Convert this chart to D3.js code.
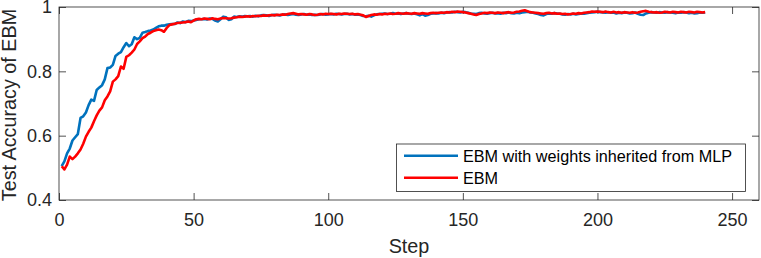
<!DOCTYPE html>
<html>
<head>
<meta charset="utf-8">
<script src="https://cdn.jsdelivr.net/npm/d3@7"></script>
<style>
  html, body { margin: 0; padding: 0; background: #fff; }
  svg { display: block; font-family: "Liberation Sans", Arial, Helvetica, sans-serif; }
</style>
</head>
<body>
<svg id="chart" width="761" height="258"></svg>
<script>
// ---- data ----
const seriesNames = ["EBM with weights inherited from MLP", "EBM"];
const xTicks = [0, 50, 100, 150, 200, 250];
const yTicks = [0.4, 0.6, 0.8, 1];
const yTickLabels = ["0.4", "0.6", "0.8", "1"];

const blueValues = [
  0.505, 0.52, 0.545, 0.56, 0.585, 0.595, 0.605, 0.655, 0.66, 0.672,
  0.695, 0.712, 0.708, 0.742, 0.75, 0.757, 0.775, 0.81, 0.812, 0.82,
  0.848, 0.855, 0.86, 0.875, 0.888, 0.878, 0.884, 0.906, 0.9, 0.904,
  0.92, 0.922, 0.925, 0.927, 0.93, 0.935, 0.94, 0.942, 0.942, 0.945,
  0.946, 0.947, 0.947, 0.952, 0.95, 0.955, 0.953, 0.957, 0.956, 0.958,
  0.96, 0.962,
  0.962, 0.963, 0.961, 0.964, 0.963, 0.958, 0.955, 0.962,
  0.97, 0.968, 0.96, 0.962, 0.97, 0.969, 0.971, 0.97, 0.972, 0.971,
  0.972, 0.97, 0.973, 0.971, 0.974, 0.975, 0.974, 0.972, 0.975, 0.976,
  0.975, 0.974, 0.976, 0.977, 0.975, 0.977, 0.978, 0.976, 0.975, 0.977,
  0.978, 0.976, 0.977, 0.975, 0.976, 0.975, 0.977, 0.978, 0.976, 0.977,
  0.978, 0.977, 0.979, 0.978, 0.977, 0.978, 0.979, 0.977, 0.978, 0.976,
  0.977, 0.975, 0.972, 0.971, 0.973, 0.97, 0.974, 0.977, 0.978, 0.979,
  0.98, 0.978, 0.979, 0.981, 0.979, 0.98, 0.978, 0.98, 0.981, 0.979,
  0.978, 0.98, 0.977, 0.974, 0.978, 0.973, 0.975, 0.979, 0.98, 0.981,
  0.98, 0.982, 0.981, 0.983, 0.984, 0.983, 0.985, 0.984, 0.983, 0.985,
  0.984, 0.982, 0.98, 0.979, 0.978, 0.981, 0.982, 0.98, 0.979, 0.981,
  0.982, 0.98, 0.981, 0.979, 0.982, 0.981, 0.983, 0.981, 0.98, 0.982,
  0.981, 0.983, 0.984, 0.985, 0.983, 0.982, 0.98, 0.978, 0.975, 0.974,
  0.978, 0.98, 0.979, 0.981, 0.98, 0.979, 0.977, 0.976, 0.978, 0.977,
  0.979, 0.977, 0.978, 0.98, 0.979, 0.981, 0.982, 0.983, 0.984, 0.985,
  0.984, 0.983, 0.982, 0.984, 0.982, 0.983, 0.98, 0.982, 0.981, 0.983,
  0.982, 0.98, 0.981, 0.983, 0.979, 0.976, 0.975, 0.98, 0.982, 0.984,
  0.983, 0.982, 0.984, 0.983, 0.982, 0.984, 0.983, 0.982, 0.981, 0.983,
  0.982, 0.984, 0.983, 0.981, 0.982, 0.98, 0.981, 0.983, 0.982, 0.983
];

const redValues = [
  0.505, 0.495, 0.51, 0.535, 0.527, 0.535, 0.545, 0.557, 0.575, 0.597,
  0.612, 0.625, 0.645, 0.663, 0.678, 0.688, 0.71, 0.722, 0.738, 0.768,
  0.775, 0.785, 0.815, 0.808, 0.845, 0.85, 0.858, 0.868, 0.885, 0.893,
  0.903, 0.908, 0.916, 0.92, 0.925, 0.928, 0.93, 0.928, 0.923, 0.935,
  0.944, 0.946, 0.948, 0.95, 0.951, 0.952, 0.953, 0.955, 0.953, 0.958,
  0.962, 0.963,
  0.962, 0.964, 0.963, 0.962, 0.965, 0.963, 0.962, 0.964,
  0.966, 0.965, 0.964, 0.965, 0.967, 0.968, 0.97, 0.969, 0.97, 0.971,
  0.97, 0.972, 0.971, 0.973, 0.972, 0.974, 0.973, 0.974, 0.975, 0.974,
  0.976, 0.975, 0.977, 0.976, 0.978, 0.98, 0.981, 0.979, 0.977, 0.978,
  0.977, 0.976, 0.978, 0.977, 0.975, 0.976, 0.978, 0.977, 0.979, 0.978,
  0.979, 0.978, 0.977, 0.979, 0.978, 0.98, 0.979, 0.978, 0.979, 0.977,
  0.978, 0.976, 0.974, 0.969, 0.972, 0.975, 0.977, 0.976, 0.978, 0.977,
  0.979, 0.978, 0.98, 0.978, 0.979, 0.981, 0.98, 0.979, 0.981, 0.98,
  0.979, 0.981, 0.98, 0.979, 0.981, 0.98, 0.979, 0.981, 0.982, 0.981,
  0.982, 0.983, 0.982, 0.984, 0.983, 0.985, 0.984, 0.986, 0.985, 0.984,
  0.983, 0.981, 0.979, 0.977, 0.975, 0.978, 0.98, 0.982, 0.981, 0.983,
  0.982, 0.981, 0.983, 0.982, 0.981, 0.983, 0.984, 0.982, 0.983, 0.985,
  0.986, 0.988, 0.99, 0.987, 0.984, 0.983, 0.982, 0.981, 0.98, 0.979,
  0.981, 0.982, 0.98, 0.981, 0.979, 0.98, 0.978, 0.979, 0.977, 0.978,
  0.98, 0.979, 0.981, 0.98, 0.982, 0.983, 0.984, 0.986, 0.985, 0.986,
  0.985, 0.984, 0.986, 0.984, 0.983, 0.985, 0.983, 0.984, 0.982, 0.984,
  0.983, 0.982, 0.984, 0.982, 0.983, 0.985, 0.987, 0.988, 0.985, 0.984,
  0.983, 0.984, 0.982, 0.983, 0.985, 0.984, 0.983, 0.985, 0.984, 0.983,
  0.985, 0.984, 0.983, 0.985, 0.984, 0.983, 0.985, 0.984, 0.983, 0.984
];

// ---- layout ----
const L = 59, R = 759, T = 7, B = 200;
const axisColor = "#262626";
const colors = ["#0072BD", "#FF0000"];

const svg = d3.select("#chart");
const x = d3.scaleLinear().domain([0, 260]).range([L, R]);
const y = d3.scaleLinear().domain([0.4, 1]).range([B, T]);

function styleAxis(g) {
  g.selectAll(".domain").remove();
  g.selectAll(".tick line").attr("stroke", axisColor).attr("stroke-width", 0.8);
  g.selectAll(".tick text").attr("fill", axisColor).style("font-size", "18px");
}

// bottom axis with labels
svg.append("g").attr("transform", `translate(0,${B})`)
  .call(d3.axisBottom(x).tickValues(xTicks).tickSize(-7).tickPadding(13).tickFormat(d3.format("d")))
  .call(styleAxis);
// top axis ticks only
svg.append("g").attr("transform", `translate(0,${T})`)
  .call(d3.axisTop(x).tickValues(xTicks).tickSize(-7).tickFormat(""))
  .call(styleAxis);
// left axis with labels
svg.append("g").attr("transform", `translate(${L},0)`)
  .call(d3.axisLeft(y).tickValues(yTicks).tickSize(-7).tickPadding(7).tickFormat((d, i) => yTickLabels[i]))
  .call(styleAxis);
// right axis ticks only
svg.append("g").attr("transform", `translate(${R},0)`)
  .call(d3.axisRight(y).tickValues(yTicks).tickSize(-7).tickFormat(""))
  .call(styleAxis);

// box
svg.append("rect")
  .attr("x", L).attr("y", T).attr("width", R - L).attr("height", B - T)
  .attr("fill", "none").attr("stroke", axisColor).attr("stroke-width", 0.8);

// lines
const line = d3.line().x((d, i) => x(i + 1)).y(d => y(d));
[blueValues, redValues].forEach((vals, k) => {
  svg.append("path").datum(vals)
    .attr("d", line)
    .attr("fill", "none")
    .attr("stroke", colors[k])
    .attr("stroke-width", 2.6)
    .attr("stroke-linejoin", "round");
});

// axis labels
svg.append("text")
  .attr("x", (L + R) / 2).attr("y", 252.5)
  .attr("text-anchor", "middle")
  .attr("fill", axisColor)
  .style("font-size", "19.8px")
  .text("Step");
svg.append("text")
  .attr("transform", `translate(16,${(T + B) / 2 + 1.5}) rotate(-90)`)
  .attr("text-anchor", "middle")
  .attr("fill", axisColor)
  .style("font-size", "19.8px")
  .text("Test Accuracy of EBM");

// legend
const lg = svg.append("g");
lg.append("rect")
  .attr("x", 396.5).attr("y", 144).attr("width", 349).attr("height", 47.5)
  .attr("fill", "#fff").attr("stroke", axisColor).attr("stroke-width", 0.8);
seriesNames.forEach((name, k) => {
  const yy = 155.7 + k * 22;
  lg.append("line")
    .attr("x1", 404).attr("x2", 458).attr("y1", yy).attr("y2", yy)
    .attr("stroke", colors[k]).attr("stroke-width", 2.6);
  lg.append("text")
    .attr("x", 463).attr("y", yy).attr("dy", "0.36em")
    .attr("fill", "#000")
    .style("font-size", "16.2px")
    .text(name);
});
</script>
</body>
</html>
